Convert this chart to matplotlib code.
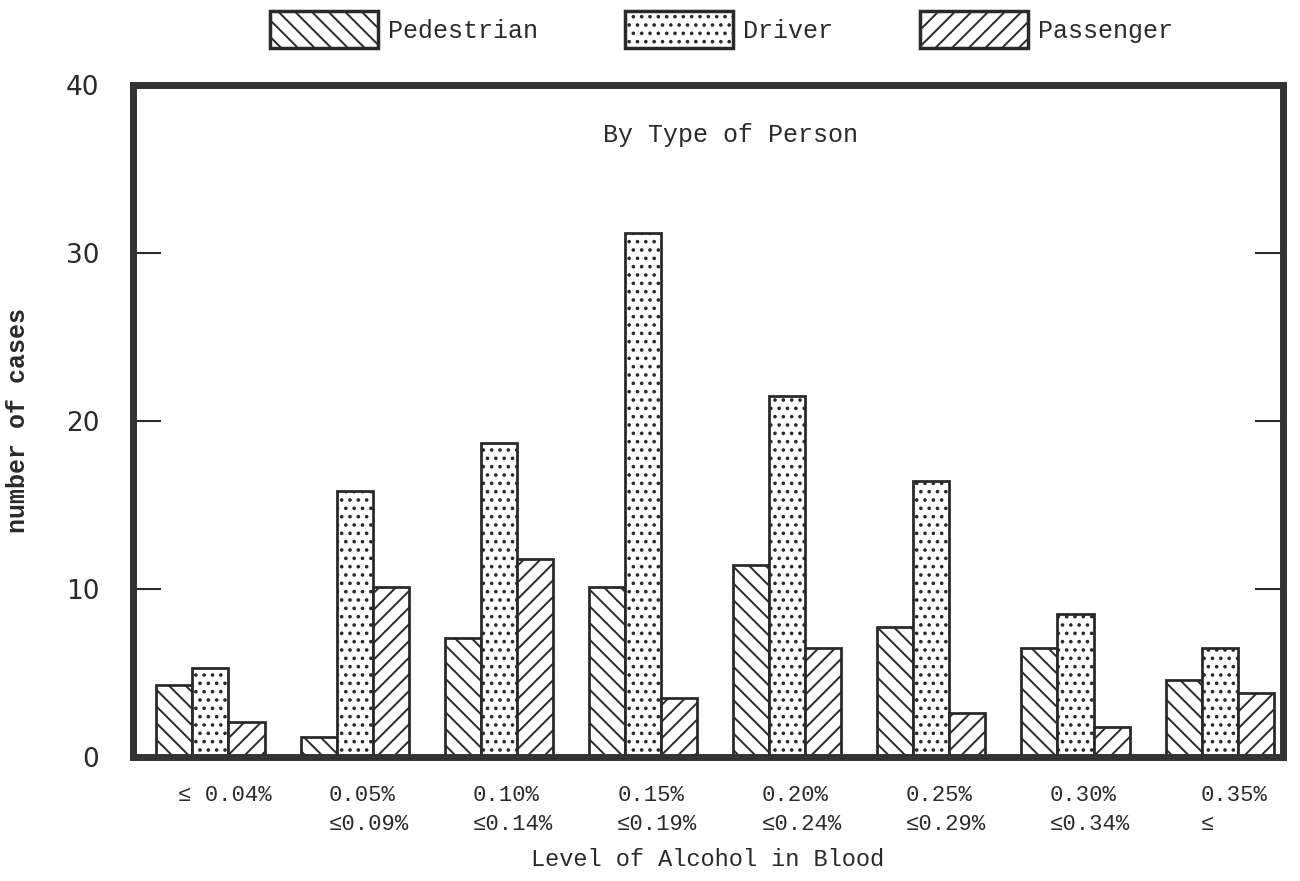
import matplotlib.pyplot as plt
import numpy as np

# niveles de alcohol (dos renglones por etiqueta)
niveles = ['\u2264 0.04%', '0.05%\n\u22640.09%', '0.10%\n\u22640.14%', '0.15%\n\u22640.19%',
           '0.20%\n\u22640.24%', '0.25%\n\u22640.29%', '0.30%\n\u22640.34%', '0.35%\n\u2264']
peatones = [4.3, 1.2, 7.1, 10.1, 11.4, 7.7, 6.5, 4.6]
conductores = [5.3, 15.8, 18.7, 31.2, 21.5, 16.4, 8.5, 6.5]
pasajeros = [2.1, 10.1, 11.8, 3.5, 6.5, 2.6, 1.8, 3.8]
yticks = [0, 10, 20, 30, 40]

mono = 'Liberation Mono'
tinta = '#2a2a2a'
plt.rcParams['hatch.linewidth'] = 1.4
plt.rcParams['hatch.color'] = tinta

fig = plt.figure(figsize=(13, 8.81), dpi=100)
ax = fig.add_axes([0.102, 0.141, 0.885, 0.7625])

x = np.arange(len(niveles))
w = 0.25
b1 = ax.bar(x - w, peatones, w, color='white', edgecolor=tinta, linewidth=2, hatch='\\\\', label='Pedestrian')
b2 = ax.bar(x, conductores, w, color='white', edgecolor=tinta, linewidth=2, hatch='..', label='Driver')
b3 = ax.bar(x + w, pasajeros, w, color='white', edgecolor=tinta, linewidth=2, hatch='//', label='Passenger')

ax.set_xlim(-0.54, 7.44)
ax.set_ylim(0, 40)
for s in ax.spines.values():
    s.set_linewidth(5)
    s.set_color('#333333')

ax.set_xticks(x + 0.1)
ax.set_xticklabels(niveles, family=mono, fontsize=16, color=tinta, linespacing=1.5)
for t in ax.get_xticklabels():
    t.set_multialignment('left')
ax.tick_params(axis='x', length=0, pad=20)

ax.set_yticks(yticks)
ax.set_yticklabels([str(v) for v in yticks], fontsize=19, color=tinta)
ax.yaxis.set_ticks_position('both')
ax.tick_params(axis='y', direction='in', length=20, width=1.5, pad=24, color=tinta)

ax.set_xlabel('Level of Alcohol in Blood', family=mono, fontsize=17, color=tinta, labelpad=10)
ax.set_ylabel('number of cases', family=mono, fontsize=18, fontweight='bold', color=tinta, labelpad=26)

ax.text(0.52, 0.925, 'By Type of Person', transform=ax.transAxes, ha='center', va='center',
        family=mono, fontsize=18, color=tinta)

leg = fig.legend(handles=[b1, b2, b3], loc='center', bbox_to_anchor=(0.555, 0.966), ncol=3,
                 frameon=False, handlelength=4.3, handleheight=1.9, columnspacing=3.5,
                 handletextpad=0.4, prop={'family': mono, 'size': 18})
for t in leg.get_texts():
    t.set_color(tinta)
for p in leg.get_patches():
    p.set_linewidth(2.5)

fig.savefig('out.png', dpi=100, facecolor='white')
